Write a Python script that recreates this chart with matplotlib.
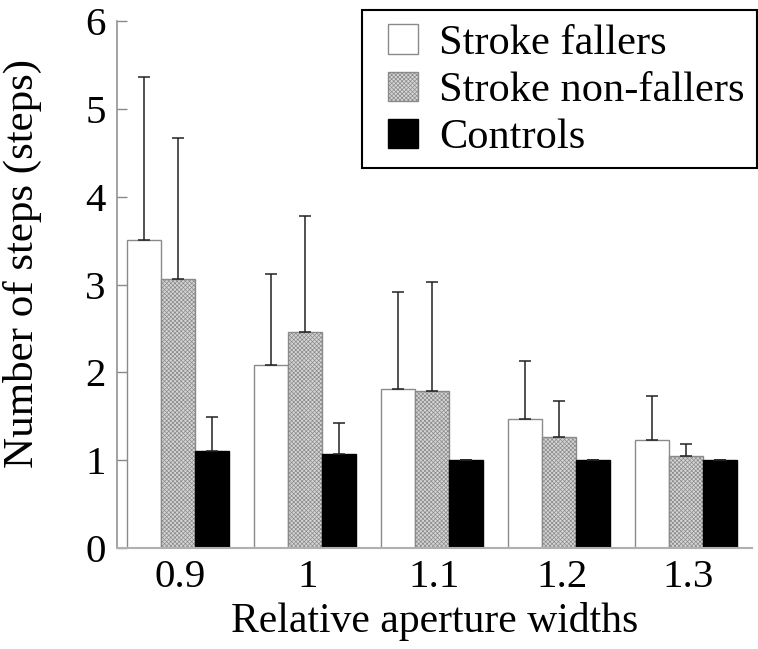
import matplotlib.pyplot as plt
from matplotlib.patches import Rectangle
import numpy as np

plt.rcParams['font.family'] = 'Liberation Serif'
plt.rcParams['hatch.color'] = '#a0a0a0'
plt.rcParams['hatch.linewidth'] = 0.5

widths = ['0.9', '1', '1.1', '1.2', '1.3']
series = ['Stroke fallers', 'Stroke non-fallers', 'Controls']
fallers = [3.51, 2.08, 1.81, 1.47, 1.23]
fallers_sd = [1.85, 1.04, 1.10, 0.66, 0.50]
non_fallers = [3.06, 2.46, 1.79, 1.26, 1.05]
non_fallers_sd = [1.61, 1.32, 1.24, 0.41, 0.13]
controls = [1.11, 1.07, 1.00, 1.00, 1.00]
controls_sd = [0.38, 0.35, 0.0, 0.0, 0.0]


def main():
    fig = plt.figure(figsize=(7.58, 6.49), dpi=100)
    ax = fig.add_axes([0.1544, 0.1556, 0.8377, 0.812])

    x = np.arange(len(widths))
    w = 0.27
    styles = [
        dict(facecolor='white', edgecolor='#8a8a8a', hatch=None),
        dict(facecolor='#d6d6d6', edgecolor='#8a8a8a', hatch='xxxxxxxx'),
        dict(facecolor='black', edgecolor='black', hatch=None),
    ]
    data = [(fallers, fallers_sd), (non_fallers, non_fallers_sd), (controls, controls_sd)]
    for i, ((vals, sd), st) in enumerate(zip(data, styles)):
        pos = x - 0.02 + (i - 1) * w
        ax.bar(pos, vals, width=w, label=series[i], linewidth=1.0, zorder=2, **st)
        ax.errorbar(pos, vals, yerr=[np.zeros(len(sd)), sd], fmt='none',
                    ecolor='#222222', elinewidth=1.1, capsize=4.5, capthick=1.1, zorder=3)

    ax.set_xlim(-0.5, 4.5)
    ax.set_ylim(0, 6)
    ax.set_xticks(x)
    ax.set_xticklabels(widths)
    ax.set_yticks(range(7))
    ax.tick_params(axis='y', direction='in', length=7, width=1, color='#8a8a8a', labelsize=29.5, pad=8)
    ax.tick_params(axis='x', length=0, labelsize=29.5, pad=8)

    for spine in ['top', 'right']:
        ax.spines[spine].set_visible(False)
    ax.spines['left'].set_color('#8a8a8a')
    ax.spines['bottom'].set_color('#b0b0b0')
    ax.spines['left'].set_linewidth(1.1)
    ax.spines['bottom'].set_linewidth(1.5)

    ax.set_xlabel('Relative aperture widths', fontsize=30, labelpad=4)
    ax.set_ylabel('Number of steps (steps)', fontsize=31)
    ax.yaxis.set_label_coords(-0.118, 0.54)

    # legend text without frame, box drawn separately (wider left padding in the original)
    ax.legend(loc='upper right', bbox_to_anchor=(0.999, 0.982), bbox_transform=fig.transFigure,
              fontsize=30.5, frameon=False,
              handlelength=0.7, handleheight=0.7, handletextpad=0.5,
              labelspacing=0.2, borderpad=0.3, borderaxespad=0)
    fig.patches.append(Rectangle((0.4776, 0.7411), 0.5211, 0.2435, transform=fig.transFigure,
                                 fill=False, edgecolor='black', linewidth=1.5))

    fig.savefig('out.png', dpi=100)
    plt.close(fig)


if __name__ == '__main__':
    main()
